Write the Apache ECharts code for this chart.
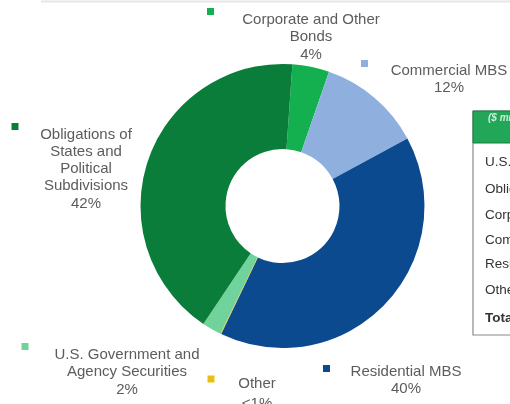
<!DOCTYPE html>
<html>
<head>
<meta charset="utf-8">
<script src="https://cdn.jsdelivr.net/npm/echarts@6/dist/echarts.min.js"></script>
<style>
  html, body { margin: 0; padding: 0; background: #fff; }
  #chart { width: 510px; height: 404px; }
</style>
</head>
<body>
<div id="chart"></div>
<script>
// Portfolio mix, clockwise from 12 o'clock
const categories = [
  'Corporate and Other Bonds',
  'Commercial MBS',
  'Residential MBS',
  'Other',
  'U.S. Government and Agency Securities',
  'Obligations of States and Political Subdivisions'
];
const wrappedNames = [
  'Corporate and Other\nBonds',
  'Commercial MBS',
  'Residential MBS',
  'Other',
  'U.S. Government and\nAgency Securities',
  'Obligations of\nStates and\nPolitical\nSubdivisions'
];
const shares = [4.2, 11.8, 40.0, 0.1, 2.2, 41.7];
const colors = ['#14b04f', '#8fb0df', '#0b4a8f', '#e8c010', '#70d39b', '#0a7d3b'];

// Row order of the summary table
const tableRows = [
  'U.S. Government and Agency Securities',
  'Obligations of States and Political Subdivisions',
  'Corporate and Other Bonds',
  'Commercial MBS',
  'Residential MBS',
  'Other',
  'Total'
];
const tableHeader = '($ millions)';

// Label anchors (centre x, top y, line height) and key-square centres, per slice
const labelSpots = [
  { x: 311, y: 11, lh: 17.5, kx: 210.5, ky: 11.5 },
  { x: 449, y: 62, lh: 17.5, kx: 364.5, ky: 63.5 },
  { x: 406, y: 363, lh: 17.5, kx: 326.5, ky: 368.5 },
  { x: 257, y: 374, lh: 20, kx: 211, ky: 379 },
  { x: 127, y: 346, lh: 17.5, kx: 25, ky: 346.5 },
  { x: 86, y: 126, lh: 17.2, kx: 15, ky: 126.5 }
];

const font = "'Liberation Sans', Arial, sans-serif";

function pctText(p) {
  return p < 1 ? '<1%' : Math.round(p) + '%';
}

const graphics = [];
// thin rule along the top
graphics.push({
  type: 'rect', shape: { x: 41, y: 0.5, width: 480, height: 2 },
  style: { fill: '#e6e6e6' }, silent: true
});
// key squares beside each label
labelSpots.forEach((s, i) => {
  graphics.push({
    type: 'rect', shape: { x: s.kx - 3.5, y: s.ky - 3.5, width: 7, height: 7 },
    style: { fill: colors[i] }, silent: true
  });
});
// summary table (runs off the right edge)
const tblX = 473, tblY = 111, headH = 32, tblH = 224;
graphics.push({
  type: 'rect', shape: { x: tblX, y: tblY, width: 120, height: tblH },
  style: { fill: '#fff', stroke: '#8a8a8a', lineWidth: 1.2 }, silent: true
});
graphics.push({
  type: 'rect', shape: { x: tblX, y: tblY, width: 120, height: headH },
  style: { fill: '#22a657', stroke: '#1b7f44', lineWidth: 1 }, silent: true
});
graphics.push({
  type: 'text', x: 488, y: 118,
  style: {
    text: tableHeader, fill: '#cfeeda', fontFamily: font,
    fontStyle: 'italic', fontWeight: 'bold', fontSize: 10, verticalAlign: 'middle'
  },
  silent: true
});
const rowY = [162, 189, 215, 240, 264, 290, 318];
tableRows.forEach((r, i) => {
  graphics.push({
    type: 'text', x: 485, y: rowY[i],
    style: {
      text: r, fill: '#333', fontFamily: font, fontSize: 13.5,
      fontWeight: i === tableRows.length - 1 ? 'bold' : 'normal',
      verticalAlign: 'middle'
    },
    silent: true
  });
});

const chart = echarts.init(document.getElementById('chart'), null, { renderer: 'canvas' });
chart.setOption({
  animation: false,
  backgroundColor: '#fff',
  graphic: { elements: graphics },
  series: [{
    type: 'pie',
    center: [282.5, 206],
    radius: [57, 142],
    startAngle: 86,
    clockwise: true,
    avoidLabelOverlap: false,
    itemStyle: { borderWidth: 0 },
    label: {
      show: true,
      position: 'outside',
      fontFamily: font,
      fontSize: 15,
      lineHeight: 17.5,
      color: '#5c5c5c',
      align: 'center',
      formatter: p => wrappedNames[p.dataIndex] + '\n' + pctText(p.percent)
    },
    labelLine: { show: false },
    labelLayout: p => {
      const s = labelSpots[p.dataIndex];
      return { x: s.x, y: s.y, align: 'center', verticalAlign: 'top' };
    },
    emphasis: { disabled: true },
    data: categories.map((c, i) => ({
      name: c,
      value: shares[i],
      itemStyle: { color: colors[i] },
      label: { lineHeight: labelSpots[i].lh }
    }))
  }]
});
</script>
</body>
</html>
